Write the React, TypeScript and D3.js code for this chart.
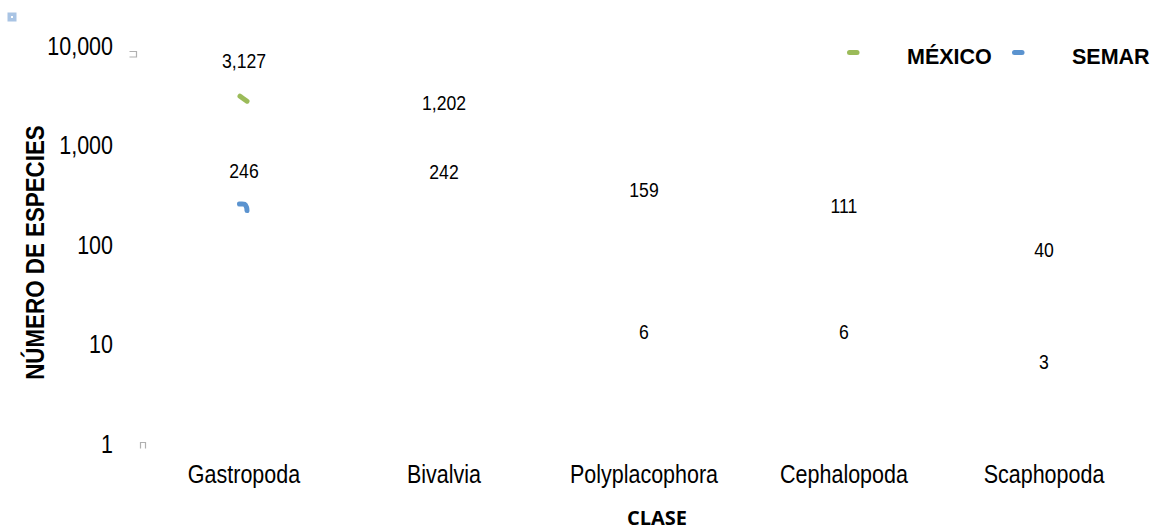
import React from "react";
import * as d3 from "d3";

const categories = ["Gastropoda", "Bivalvia", "Polyplacophora", "Cephalopoda", "Scaphopoda"];
const mexico = [3127, 1202, 159, 111, 40];
const semar = [246, 242, 6, 6, 3];
const yTicks = [1, 10, 100, 1000, 10000];
const seriesNames = ["MÉXICO", "SEMAR"];
const seriesColors = ["#9bbb59", "#5b93cf"];

const W = 1156;
const H = 531;
const ARIAL = "'Liberation Sans', Arial, sans-serif";
const SX = 0.86;

function NText({ x, y, anchor, size, children, dy, weight, rotate }: any) {
  const t = rotate ? `translate(${x},${y}) rotate(${rotate}) scale(${SX},1)` : `translate(${x},${y}) scale(${SX},1)`;
  return (
    <text transform={t} dy={dy} textAnchor={anchor} fontFamily={ARIAL} fontSize={size} fontWeight={weight} fill="#000">
      {children}
    </text>
  );
}

export default function App() {
  const x = d3.scaleBand<string>().domain(categories).range([144, 1144]);
  const y = d3.scaleLog().domain([1, 10000]).range([444, 46]);
  const fmt = d3.format(",");
  const cx = (c: string) => (x(c) as number) + x.bandwidth() / 2;

  const g0 = cx(categories[0]);
  const gy = y(mexico[0]);
  const by = y(semar[0]);
  const line = d3.line<[number, number]>().curve(d3.curveCatmullRom);

  return (
    <svg width={W} height={H} style={{ position: "absolute", left: 0, top: 0, background: "#fff" }}>
      {/* small artifacts */}
      <rect x={7.5} y={12.5} width={9} height={9} fill="#a9c4e4" />
      <rect x={11} y={16} width={2} height={2} fill="#fff" />
      <path d={`M129.5,51.5 H136.5 V57 H129.5`} fill="none" stroke="#b0b0b0" strokeWidth={1.2} />
      <path d={`M140.5,448.5 V442.5 H145.5 V448.5`} fill="none" stroke="#b0b0b0" strokeWidth={1.2} />

      {/* y tick labels */}
      {yTicks.map((t) => (
        <NText key={t} x={113} y={y(t)} dy="0.35em" anchor="end" size={25}>
          {fmt(t)}
        </NText>
      ))}

      {/* category labels */}
      {categories.map((c) => (
        <NText key={c} x={cx(c)} y={483} anchor="middle" size={25}>
          {c}
        </NText>
      ))}

      {/* partial series strokes */}
      <path d={line([[g0 - 4, gy], [g0 + 3, gy + 5]]) as string} fill="none" stroke={seriesColors[0]} strokeWidth={5} strokeLinecap="round" />
      <path d={line([[g0 - 4.5, by - 2], [g0 + 0.5, by - 1.8], [g0 + 2.5, by + 1], [g0 + 3, by + 4.5]]) as string} fill="none" stroke={seriesColors[1]} strokeWidth={5} strokeLinecap="round" strokeLinejoin="round" />

      {/* data labels */}
      {[mexico, semar].map((vals, si) =>
        vals.map((v, i) => (
          <NText key={`${si}-${i}`} x={cx(categories[i])} y={y(v) - 35} dy="0.35em" anchor="middle" size={20.5}>
            {fmt(v)}
          </NText>
        ))
      )}

      {/* legend */}
      {seriesNames.map((s, i) => {
        const lx = [847, 1012][i];
        return (
          <g key={s}>
            <line x1={lx + 2.5} x2={lx + 10} y1={52.5} y2={52.5} stroke={seriesColors[i]} strokeWidth={5} strokeLinecap="round" />
            <text x={[907, 1072][i]} y={64} fontFamily={ARIAL} fontWeight="bold" fontSize={21.5} fill="#000">
              {s}
            </text>
          </g>
        );
      })}

      {/* axis titles */}
      <NText x={44} y={(125 + 380) / 2} rotate={-90} anchor="middle" size={26} weight="bold">
        NÚMERO DE ESPECIES
      </NText>
      <text x={657} y={525} textAnchor="middle" fontFamily="'Open Sans', sans-serif" fontWeight="bold" fontSize={20} fill="#000">
        CLASE
      </text>
    </svg>
  );
}
